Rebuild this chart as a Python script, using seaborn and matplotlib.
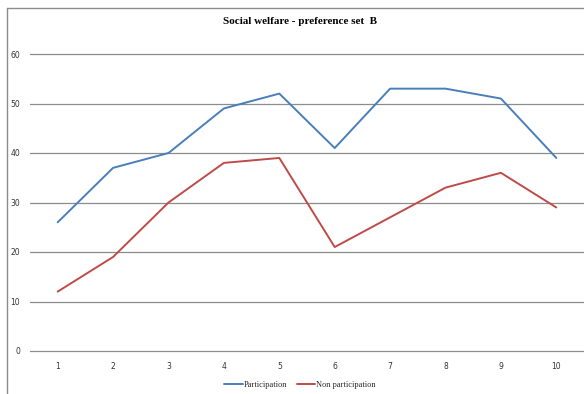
import matplotlib
matplotlib.use("Agg")
import matplotlib.pyplot as plt
import seaborn as sns
import pandas as pd
from matplotlib.lines import Line2D

categories = [1, 2, 3, 4, 5, 6, 7, 8, 9, 10]
participation = [26, 37, 40, 49, 52, 41, 53, 53, 51, 39]
non_participation = [12, 19, 30, 38, 39, 21, 27, 33, 36, 29]
series_names = ["Participation", "Non participation"]
yticks = [0, 10, 20, 30, 40, 50, 60]

df = pd.DataFrame({
    "x": categories * 2,
    "value": participation + non_participation,
    "series": [series_names[0]] * len(categories) + [series_names[1]] * len(categories),
})

sns.set_theme(style="white")
fig = plt.figure(figsize=(5.84, 3.94), dpi=100)
ax = fig.add_axes([30 / 584, 1 - 351 / 394, 1 - 30 / 584, (351 - 54) / 394])

palette = {series_names[0]: "#4A7EBB", series_names[1]: "#BE4B48"}
sns.lineplot(data=df, x="x", y="value", hue="series", palette=palette, ax=ax,
             linewidth=1.4, legend=False, zorder=3)

ax.set_xlim(0.5, 10.5)
ax.set_ylim(0, 60)
ax.set_yticks(yticks)
ax.set_xticks(categories)
ax.set_yticklabels([str(v) for v in yticks], fontsize=5.5, color="#333333")
ax.set_xticklabels([str(v) for v in categories], fontsize=5.5, color="#333333")
ax.tick_params(axis="both", length=0, pad=7)
ax.tick_params(axis="x", pad=8)
for y in yticks:
    ax.axhline(y, color="#8C8C8C", linewidth=0.9, zorder=1, clip_on=False)
for s in ax.spines.values():
    s.set_visible(False)
ax.set_xlabel("")
ax.set_ylabel("")

fig.text(300 / 584, 1 - 21 / 394, "Social welfare - preference set  B",
         ha="center", va="center", fontsize=8, fontweight="bold",
         family="Liberation Serif", color="black")

# chart frame (cropped)
fig.add_artist(Line2D([7 / 584, 1.01], [1 - 8 / 394, 1 - 8 / 394],
                      transform=fig.transFigure, color="#8C8C8C", linewidth=1))
fig.add_artist(Line2D([7 / 584, 7 / 584], [1 - 8 / 394, -0.01],
                      transform=fig.transFigure, color="#8C8C8C", linewidth=1))

handles = [Line2D([0], [0], color=palette[n], linewidth=1.4) for n in series_names]
fig.legend(handles, series_names, loc="center", bbox_to_anchor=(300 / 584, 1 - 385 / 394),
           ncol=2, frameon=False, prop={"family": "Liberation Serif", "size": 6},
           handlelength=2.2, handletextpad=0.1, columnspacing=1.2)

fig.savefig("out.png", dpi=100)
